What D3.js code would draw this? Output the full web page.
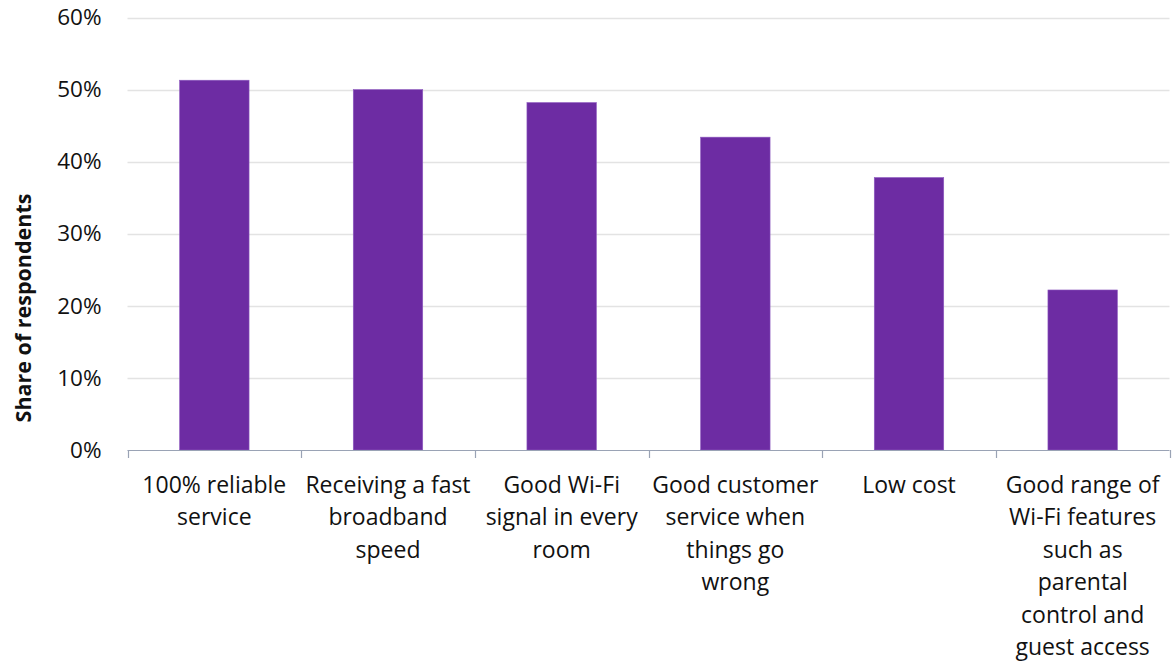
<!DOCTYPE html>
<html>
<head>
<meta charset="utf-8">
<script src="https://cdn.jsdelivr.net/npm/d3@7"></script>
<style>
  html, body { margin: 0; padding: 0; background: #ffffff; }
  svg { display: block; font-family: "Open Sans", Lato, sans-serif; }
</style>
</head>
<body>
<svg id="chart" width="1174" height="664"></svg>
<script>
// Most important broadband features, share of respondents
const categories = [
  "100% reliable service",
  "Receiving a fast broadband speed",
  "Good Wi-Fi signal in every room",
  "Good customer service when things go wrong",
  "Low cost",
  "Good range of Wi-Fi features such as parental control and guest access"
];
const categoryLines = [
  ["100% reliable", "service"],
  ["Receiving a fast", "broadband", "speed"],
  ["Good Wi-Fi", "signal in every", "room"],
  ["Good customer", "service when", "things go", "wrong"],
  ["Low cost"],
  ["Good range of", "Wi-Fi features", "such as", "parental", "control and", "guest access"]
];
const shares = [0.513, 0.500, 0.482, 0.434, 0.378, 0.222];
const yTicks = [0, 0.1, 0.2, 0.3, 0.4, 0.5, 0.6];
const yTitle = "Share of respondents";

const svg = d3.select("#chart");
const margin = { left: 127.5, right: 1169.5, top: 17.5, bottom: 450 };
const font = "'Open Sans', Lato, sans-serif";

const x = d3.scaleBand()
  .domain(categories)
  .range([margin.left, margin.right])
  .paddingInner(0.6)
  .paddingOuter(0.3);

const y = d3.scaleLinear()
  .domain([0, 0.6])
  .range([margin.bottom, margin.top]);

// gridlines
svg.append("g")
  .selectAll("line")
  .data(yTicks.filter(d => d > 0))
  .join("line")
  .attr("x1", margin.left)
  .attr("x2", margin.right)
  .attr("y1", d => Math.round(y(d)) + 0.5)
  .attr("y2", d => Math.round(y(d)) + 0.5)
  .attr("stroke", "#e3e3e3")
  .attr("stroke-width", 1.5);

// y tick labels
const yAxis = d3.axisLeft(y)
  .tickValues(yTicks)
  .tickFormat(d3.format(".0%"))
  .tickSize(0)
  .tickPadding(0);
const gy = svg.append("g")
  .attr("transform", `translate(${margin.left - 26},0)`)
  .call(yAxis);
gy.select(".domain").remove();
gy.selectAll("text")
  .attr("font-size", 22.5)
  .attr("font-family", font)
  .attr("fill", "#111");

// bars
svg.append("g")
  .selectAll("rect")
  .data(shares)
  .join("rect")
  .attr("x", (d, i) => x(categories[i]))
  .attr("width", x.bandwidth())
  .attr("y", d => y(d))
  .attr("height", d => y(0) - y(d))
  .attr("fill", "#6d2ca3")
  .attr("stroke", "#8f5cc0")
  .attr("stroke-width", 0.6);

// x axis line and category separators
const step = x.step();
const bounds = d3.range(categories.length + 1).map(i => margin.left + i * step);
const gx = svg.append("g");
gx.append("line")
  .attr("x1", margin.left)
  .attr("x2", margin.right)
  .attr("y1", margin.bottom + 0.5)
  .attr("y2", margin.bottom + 0.5)
  .attr("stroke", "#9aa3b5")
  .attr("stroke-width", 1.2);
gx.selectAll("line.sep")
  .data(bounds)
  .join("line")
  .attr("class", "sep")
  .attr("x1", d => Math.round(d) + 0.5)
  .attr("x2", d => Math.round(d) + 0.5)
  .attr("y1", margin.bottom)
  .attr("y2", margin.bottom + 8)
  .attr("stroke", "#9aa3b5")
  .attr("stroke-width", 1.2);

// category labels
const labels = svg.append("g")
  .selectAll("text")
  .data(categories)
  .join("text")
  .attr("text-anchor", "middle")
  .attr("font-size", 23)
  .attr("font-family", font)
  .attr("fill", "#111")
  .attr("x", d => x(d) + x.bandwidth() / 2)
  .attr("y", 493);
labels.each(function(d, i) {
  d3.select(this).selectAll("tspan")
    .data(categoryLines[i])
    .join("tspan")
    .attr("x", x(d) + x.bandwidth() / 2)
    .attr("dy", (t, j) => j === 0 ? 0 : 32.4)
    .text(t => t);
});

// y axis title
svg.append("text")
  .attr("transform", "translate(31,308) rotate(-90)")
  .attr("text-anchor", "middle")
  .attr("font-size", 21.5)
  .attr("font-family", font)
  .attr("font-weight", "bold")
  .attr("fill", "#111")
  .text(yTitle);
</script>
</body>
</html>
